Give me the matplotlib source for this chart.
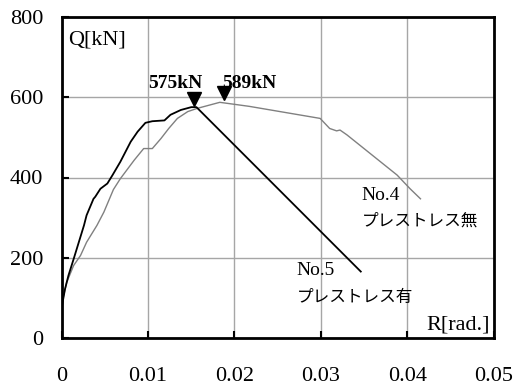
import numpy as np
import matplotlib
matplotlib.use("Agg")
import matplotlib.pyplot as plt

plt.rcParams['font.family'] = ['Liberation Serif', 'Noto Sans CJK JP', 'DejaVu Sans']

# No.4 (no prestress) - grey curve
R4 = [0, 0.00005, 0.00015, 0.0006, 0.0014, 0.0022, 0.0029, 0.0041, 0.0049, 0.0060,
      0.0068, 0.0084, 0.0095, 0.0105, 0.0115, 0.0124, 0.0134, 0.0146, 0.0157, 0.0183,
      0.0217, 0.0299, 0.0310, 0.0318, 0.0322, 0.0330, 0.0388, 0.0403, 0.0415]
Q4 = [0, 60, 97, 139, 181, 206, 239, 281, 314, 370,
      397, 443, 472, 472, 497, 522, 547, 564, 572, 587,
      577, 547, 522, 516, 518, 506, 406, 372, 347]

# No.5 (with prestress) - black curve
R5 = [0, 0.00002, 0.00005, 0.0004, 0.0008, 0.0014, 0.0020, 0.0026, 0.0029, 0.0037,
      0.0039, 0.0045, 0.0053, 0.0059, 0.0068, 0.0080, 0.0088, 0.0097, 0.0105, 0.0119,
      0.0126, 0.0138, 0.0150, 0.0156, 0.0346]
Q5 = [0, 40, 80, 122, 156, 197, 239, 281, 306, 347,
      352, 372, 385, 406, 439, 489, 514, 536, 540, 542,
      556, 568, 575, 575, 166]

peak_R = [0.0153, 0.0188]
peak_Q = [575, 589]
peak_labels = ['575kN', '589kN']
label_R = [0.0132, 0.0217]

xticks = [0, 0.01, 0.02, 0.03, 0.04, 0.05]
yticks = [0, 200, 400, 600, 800]

fig = plt.figure(figsize=(5.15, 3.92), dpi=100)
ax = fig.add_axes([61.5/515, 1-338.3/392, (494-61.5)/515, (338.3-16.7)/392])

ax.plot(R4, Q4, color='#808080', lw=1.0)
ax.plot(R5, Q5, color='black', lw=1.3)

for r, q, lab, lr in zip(peak_R, peak_Q, peak_labels, label_R):
    ax.plot(r, q + 20, marker='v', color='black', markersize=10.5, ls='none')
    ax.text(lr, 622, lab, ha='center', va='baseline', fontsize=14, fontweight='bold')

ax.set_xlim(0, 0.05)
ax.set_ylim(0, 800)
ax.set_xticks(xticks)
ax.set_xticklabels(['0', '0.01', '0.02', '0.03', '0.04', '0.05'])
ax.set_yticks(yticks)
ax.grid(True, color='#a6a6a6', lw=1.0)
ax.set_axisbelow(True)
for s in ax.spines.values():
    s.set_linewidth(2.0)
ax.tick_params(direction='in', length=5, width=1.5, labelsize=16)
ax.tick_params(axis='x', pad=21)
ax.tick_params(axis='y', pad=13)

ax.text(0.00075, 742, 'Q[kN]', ha='left', va='center', fontsize=16)
ax.text(0.04954, 21, 'R[rad.]', ha='right', va='baseline', fontsize=16)
ax.text(0.0347, 344, 'No.4', ha='left', va='baseline', fontsize=14)
ax.text(0.0347, 280, 'プレストレス無', ha='left', va='baseline', fontsize=12)
ax.text(0.0272, 157, 'No.5', ha='left', va='baseline', fontsize=14)
ax.text(0.0272, 90, 'プレストレス有', ha='left', va='baseline', fontsize=12)

fig.savefig('out.png', dpi=100)
